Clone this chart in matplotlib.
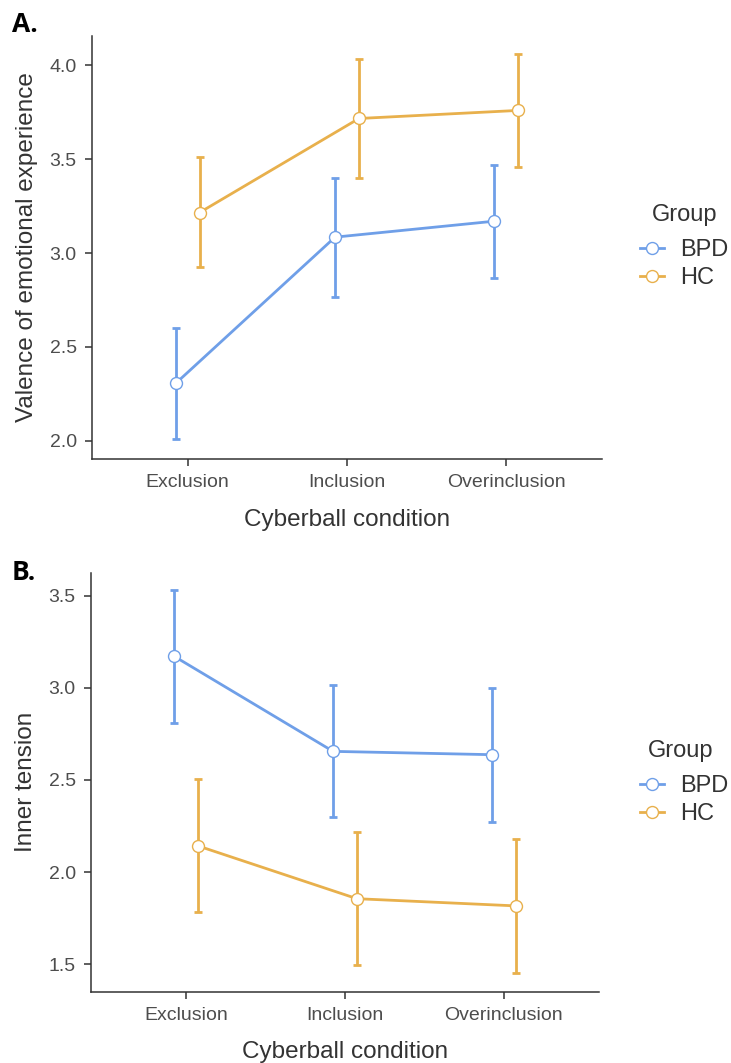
import matplotlib
matplotlib.use("Agg")
import matplotlib.pyplot as plt
from matplotlib.lines import Line2D
import numpy as np

plt.rcParams['font.family'] = ['Liberation Sans', 'DejaVu Sans']

conditions = ["Exclusion", "Inclusion", "Overinclusion"]
groups = ["BPD", "HC"]

# Panel A: valence of emotional experience
a_bpd_mean = [2.306, 3.085, 3.170]
a_bpd_low = [2.011, 2.768, 2.870]
a_bpd_high = [2.602, 3.402, 3.470]
a_hc_mean = [3.216, 3.717, 3.760]
a_hc_low = [2.924, 3.402, 3.460]
a_hc_high = [3.512, 4.032, 4.061]

# Panel B: inner tension
b_bpd_mean = [3.170, 2.655, 2.637]
b_bpd_low = [2.810, 2.297, 2.271]
b_bpd_high = [3.530, 3.017, 3.000]
b_hc_mean = [2.142, 1.856, 1.817]
b_hc_low = [1.782, 1.496, 1.452]
b_hc_high = [2.504, 2.220, 2.181]

colors = {"BPD": "#6f9fe8", "HC": "#e8b04c"}
dodge = {"BPD": -0.075, "HC": 0.075}

W, H = 731, 1063
fig = plt.figure(figsize=(W / 100, H / 100), dpi=100)


def px_axes(left, top, right, bottom):
    return fig.add_axes([left / W, 1 - bottom / H, (right - left) / W, (bottom - top) / H])


def panel(ax, data, ylim, yticks, ylabel, title_xy, entries_y, letter, letter_xy, xlab_y):
    x = np.arange(1, len(conditions) + 1)
    handles = []
    for g in groups:
        mean, low, high = data[g]
        mean = np.array(mean)
        yerr = [mean - np.array(low), np.array(high) - mean]
        xs = x + dodge[g]
        ax.plot(xs, mean, color=colors[g], lw=2.0, zorder=2, solid_capstyle='butt')
        ax.errorbar(xs, mean, yerr=yerr, fmt='none', ecolor=colors[g], elinewidth=2.0,
                    capsize=3.0, capthick=2.0, zorder=3)
        ax.plot(xs, mean, 'o', ms=8.6, mfc='white', mec=colors[g], mew=1.0, zorder=4)
        handles.append(Line2D([0], [0], color=colors[g], lw=2.0, marker='o', ms=8.6,
                              mfc='white', mec=colors[g], mew=1.0))
    ax.set_xlim(0.4, 3.6)
    ax.set_ylim(*ylim)
    ax.set_xticks(x)
    ax.set_xticklabels(conditions)
    ax.set_yticks(yticks)
    ax.set_yticklabels([f"{t:.1f}" for t in yticks])
    for s in ['top', 'right']:
        ax.spines[s].set_visible(False)
    for s in ['left', 'bottom']:
        ax.spines[s].set_color('#333333')
        ax.spines[s].set_linewidth(1.1)
    ax.tick_params(axis='both', direction='out', length=5, width=1.1, color='#333333',
                   labelsize=14, labelcolor='#4d4d4d', pad=6)
    ax.set_ylabel(ylabel, fontsize=17.5, color='#333333', va='center')
    ax.set_xlabel("Cyberball condition", fontsize=17.5, color='#333333', va='center')
    ax.yaxis.set_label_coords(-0.127, 0.5)
    ax.xaxis.set_label_coords(0.5, xlab_y)
    leg = ax.legend(handles, groups, loc='center left',
                    bbox_to_anchor=(640 / W, 1 - entries_y / H), bbox_transform=fig.transFigure,
                    frameon=False, fontsize=17, handlelength=1.0,
                    handletextpad=0.7, labelspacing=0.25, borderpad=0, borderaxespad=0)
    for t in leg.get_texts():
        t.set_color('#333333')
    fig.text(title_xy[0] / W, 1 - title_xy[1] / H, "Group", fontsize=17, color='#333333',
             ha='center', va='center')
    fig.text(letter_xy[0] / W, 1 - letter_xy[1] / H, letter, fontsize=19, fontweight='bold',
             family=['Open Sans', 'DejaVu Sans'], ha='left', va='center')


axA = px_axes(92, 35.5, 602, 458.5)
panel(axA, {"BPD": (a_bpd_mean, a_bpd_low, a_bpd_high), "HC": (a_hc_mean, a_hc_low, a_hc_high)},
      (1.906, 4.159), [2.0, 2.5, 3.0, 3.5, 4.0], "Valence of emotional experience",
      (685, 215), 264, "A.", (12, 25), -0.146)

axB = px_axes(91, 572.5, 599, 992)
panel(axB, {"BPD": (b_bpd_mean, b_bpd_low, b_bpd_high), "HC": (b_hc_mean, b_hc_low, b_hc_high)},
      (1.35, 3.625), [1.5, 2.0, 2.5, 3.0, 3.5], "Inner tension",
      (681, 751), 800, "B.", (12, 572), -0.143)

fig.savefig("out.png", dpi=100)
